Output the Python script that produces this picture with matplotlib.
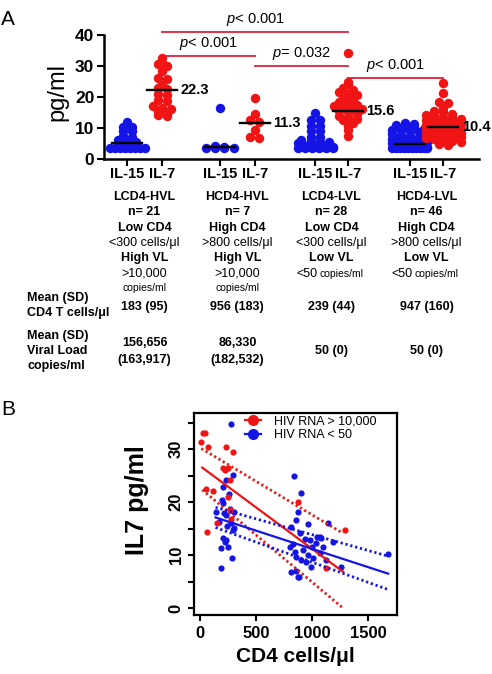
import numpy as np
import matplotlib
matplotlib.use('Agg')
import matplotlib.pyplot as plt
import matplotlib.transforms as mtransforms
from matplotlib.lines import Line2D

plt.rcParams['font.family'] = ['Liberation Sans', 'DejaVu Sans']
plt.rcParams['mathtext.fontset'] = 'custom'
plt.rcParams['mathtext.it'] = 'Liberation Sans:italic'
plt.rcParams['mathtext.rm'] = 'Liberation Sans'

RED = '#f01414'
BLUE = '#1414e6'
LINE_RED = '#e0203a'

# ---- panel A data ----
groups = ['LCD4-HVL', 'HCD4-HVL', 'LCD4-LVL', 'HCD4-LVL']
n_lab = ['n= 21', 'n= 7', 'n= 28', 'n= 46']
cd4_lab = ['Low CD4', 'High CD4', 'Low CD4', 'High CD4']
cd4_rng = ['<300 cells/\u03bcl', '>800 cells/\u03bcl', '<300 cells/\u03bcl', '>800 cells/\u03bcl']
vl_lab = ['High VL', 'High VL', 'Low VL', 'Low VL']
cd4_mean = ['183 (95)', '956 (183)', '239 (44)', '947 (160)']
vl_mean = [('156,656', '(163,917)'), ('86,330', '(182,532)'), ('50 (0)',), ('50 (0)',)]

il15 = [
    [12.0, 10.4, 10.2, 9.1, 9.0, 7.5, 7.0, 6.0, 5.8, 5.5, 4.5, 4.3, 4.0, 3.5, 3.5, 3.5, 3.5, 3.5, 3.5, 3.5, 3.5],
    [16.3, 4.3, 3.8, 3.6, 3.5, 3.5, 3.5],
    [14.7, 12.6, 12.5, 10.7, 10.6, 9.0, 8.9, 7.2, 7.1, 6.0, 5.8, 5.6, 5.5, 5.2, 4.2, 4.1, 4.0, 4.0,
     3.9, 3.9, 3.8, 3.8, 3.7, 3.7, 3.6, 3.6, 3.5, 3.5],
    [11.5, 11.3, 11.0, 10.6, 10.2, 9.8, 9.5, 9.2, 8.9, 8.6, 8.3, 8.0, 7.7, 7.4, 7.1, 6.8, 6.5, 6.3,
     6.0, 5.8, 5.6, 5.4, 5.2, 5.0, 4.8, 4.6, 4.4, 4.3, 4.2, 4.1, 4.0, 4.0, 3.9, 3.9, 3.8, 3.8, 3.7,
     3.7, 3.7, 3.6, 3.6, 3.6, 3.5, 3.5, 3.5, 3.5],
]
il7 = [
    [32.5, 31, 30.5, 30, 28.5, 26, 25.8, 24, 23, 22.5, 21, 20.5, 19, 18.8, 17, 16.5, 16, 15.5, 14.5, 14.2, 13.8],
    [19.6, 14.5, 12.5, 12.0, 9.5, 7.0, 6.8],
    [34.1, 24.8, 24.2, 22.8, 22.3, 21.5, 21, 20.5, 19.5, 19.2, 18.5, 18, 17.5, 17, 16.5, 16.2, 16,
     15.5, 15, 14.5, 14, 13.5, 13, 12.5, 11.5, 10.5, 9.3, 7.5],
    [24.4, 21.2, 18.5, 18.0, 16.5, 15.5, 15.0, 14.6, 14.2, 13.8, 13.5, 13.2, 12.9, 12.6, 12.3, 12.0,
     11.8, 11.5, 11.3, 11.0, 10.8, 10.6, 10.4, 10.2, 10.0, 9.8, 9.6, 9.4, 9.2, 9.0, 8.8, 8.6, 8.4,
     8.2, 8.0, 7.8, 7.5, 7.2, 7.0, 6.7, 6.4, 6.1, 5.8, 5.5, 5.0, 4.5],
]
il15_center = [5.3, 3.8, None, 5.0]
il7_center = [22.1, 11.6, 15.6, 10.2]
il7_center_lab = ['22.3', '11.3', '15.6', '10.4']

# brackets: (from group IL-7, to group IL-7, height, label)
brackets = [(0, 2, 41.0, '$p$< 0.001'), (0, 1, 33.2, '$p$< 0.001'),
            (1, 2, 30.0, '$p$= 0.032'), (2, 3, 26.1, '$p$< 0.001')]

# ---- panel B data ----
red_cd4 = [10, 24, 39, 69, 233, 292, 203, 218, 248, 262, 54, 114, 248, 262, 149, 60, 872, 1126, 1289, 275]
red_il7 = [31.4, 33, 33, 30.3, 30.4, 29.4, 26.4, 26, 26.5, 24.2, 22.4, 22.1, 21, 18.5, 16, 14.4, 20, 7.5, 14.7, 16.9]
blue_cd4 = [278, 292, 233, 203, 254, 197, 203, 144, 262, 233, 298, 278, 292, 203, 218, 248, 188, 286, 188,
            167, 233, 300, 210, 240,
            837, 896, 872, 858, 962, 813, 1140, 887, 977, 1066, 798, 843, 858, 947, 992, 813, 872, 1036,
            1095, 1006, 1066, 1045, 1075, 1676, 1260, 881, 830, 920, 960, 900, 1000, 1120, 850, 935, 1180]
blue_il7 = [34.7, 25.1, 24.2, 22.9, 21.6, 20.4, 19.8, 18.2, 18.6, 17.5, 18.2, 16.0, 14.7, 13.2, 12.5, 11.6,
            11.3, 9.4, 7.5, 16.3, 12.8, 15.2, 18.0, 15.5,
            24.9, 21.8, 18.2, 16.6, 15.8, 15.3, 16.1, 14.1, 12.8, 13.5, 11.6, 10.6, 9.7, 8.7, 7.8, 6.8,
            5.9, 12.2, 11.6, 9.4, 10.3, 13.5, 13.3, 10.2, 7.7, 5.8, 12.0, 11.0, 10.0, 9.0, 11.5, 9.0,
            7.0, 13.0, 12.5]

red_fit_x = [19, 1274]
red_fit_y = [26.5, 6.85]
red_hi_x = [10, 1274]
red_hi_y = [30.1, 14.1]
red_lo_x = [19, 1274]
red_lo_y = [22.3, 0.0]
blue_fit_x = [137, 1676]
blue_fit_y = [17.1, 6.5]
blue_hi_y = [19.0, 9.8]
blue_lo_y = [15.2, 3.5]


def swarm(center, vals, binw=1.5, dx=0.26, maxw=1.0):
    vals = np.sort(np.asarray(vals, dtype=float))[::-1]
    bins = np.round(vals / binw)
    xs = np.zeros(len(vals))
    for b in np.unique(bins):
        idx = np.where(bins == b)[0]
        n = len(idx)
        step = dx if n < 2 else min(dx, maxw / (n - 1))
        xs[idx] = center + (np.arange(n) - (n - 1) / 2) * step
    return xs, vals


fig = plt.figure(figsize=(4.92, 6.74), dpi=100)
W, H = 492, 674

# ================= panel A =================
axA = fig.add_axes([104 / W, 1 - 159 / H, 375 / W, (159 - 10.2) / H])
pos15 = [0.66, 3.31, 6.03, 8.74]
pos7 = [1.66, 4.31, 6.97, 9.69]

for i in range(4):
    x, v = swarm(pos15[i], il15[i])
    axA.scatter(x, v, s=46, color=BLUE, lw=0, zorder=3, clip_on=False)
    x, v = swarm(pos7[i], il7[i])
    axA.scatter(x, v, s=46, color=RED, lw=0, zorder=3, clip_on=False)
    if il15_center[i] is not None:
        axA.plot([pos15[i] - 0.43, pos15[i] + 0.43], [il15_center[i]] * 2, color='black', lw=1.7, zorder=4)
    axA.plot([pos7[i] - 0.43, pos7[i] + 0.43], [il7_center[i]] * 2, color='black', lw=1.7, zorder=4)
    axA.text(pos7[i] + 0.53, il7_center[i], il7_center_lab[i], fontsize=10.5, fontweight='bold',
             ha='left', va='center')

for g0, g1, yb, lab in brackets:
    x0, x1 = pos7[g0], pos7[g1]
    axA.plot([x0, x1], [yb, yb], color=LINE_RED, lw=1.3, clip_on=False)
    axA.text((x0 + x1) / 2, yb + 1.2, lab, fontsize=10.5, ha='center', va='bottom')

axA.set_xlim(0, 375 / 35)
axA.set_ylim(0, 48)
axA.spines['top'].set_visible(False)
axA.spines['right'].set_visible(False)
axA.spines['left'].set_bounds(0, 40)
axA.spines['left'].set_linewidth(1.8)
axA.spines['bottom'].set_linewidth(1.8)
axA.set_yticks([0, 10, 20, 30, 40])
axA.set_yticklabels(['0', '10', '20', '30', '40'], fontsize=12.5, fontweight='bold')
ticks = sorted(pos15 + pos7)
axA.set_xticks(ticks)
axA.set_xticklabels(['IL-15', 'IL-7'] * 4, fontsize=10.5, fontweight='bold')
axA.tick_params(axis='both', width=1.5, length=5)
axA.tick_params(axis='x', pad=1)
axA.tick_params(axis='y', pad=2)
axA.set_ylabel('pg/ml', fontsize=17)
axA.yaxis.set_label_coords(-0.095, 0.45)

# table under panel A
blend = mtransforms.blended_transform_factory(axA.transData, fig.transFigure)
gc = [(a + b) / 2 for a, b in zip(pos15, pos7)]


def fy(ypx):
    return 1 - ypx / H


for i in range(4):
    axA.text(gc[i], fy(197), groups[i], transform=blend, ha='center', va='center', fontsize=9, fontweight='bold')
    axA.text(gc[i], fy(212), n_lab[i], transform=blend, ha='center', va='center', fontsize=9, fontweight='bold')
    axA.text(gc[i], fy(228), cd4_lab[i], transform=blend, ha='center', va='center', fontsize=9, fontweight='bold')
    axA.text(gc[i], fy(243), cd4_rng[i], transform=blend, ha='center', va='center', fontsize=9)
    axA.text(gc[i], fy(258), vl_lab[i], transform=blend, ha='center', va='center', fontsize=9, fontweight='bold')
    if i < 2:
        axA.text(gc[i], fy(274), '>10,000', transform=blend, ha='center', va='center', fontsize=9)
        axA.text(gc[i], fy(288), 'copies/ml', transform=blend, ha='center', va='center', fontsize=7.5)
    else:
        axA.annotate('<50', xy=(gc[i], fy(274)), xycoords=blend, xytext=(-10, 0),
                     textcoords='offset points', ha='right', va='center', fontsize=9)
        axA.annotate('copies/ml', xy=(gc[i], fy(274)), xycoords=blend, xytext=(-9, 0),
                     textcoords='offset points', ha='left', va='center', fontsize=7.5)
    axA.text(gc[i], fy(307), cd4_mean[i], transform=blend, ha='center', va='center', fontsize=9, fontweight='bold')
    if len(vl_mean[i]) == 2:
        axA.text(gc[i], fy(343), vl_mean[i][0], transform=blend, ha='center', va='center', fontsize=9, fontweight='bold')
        axA.text(gc[i], fy(360), vl_mean[i][1], transform=blend, ha='center', va='center', fontsize=9, fontweight='bold')
    else:
        axA.text(gc[i], fy(351), vl_mean[i][0], transform=blend, ha='center', va='center', fontsize=9, fontweight='bold')

for ypx, t in [(298, 'Mean (SD)'), (313, 'CD4 T cells/\u03bcl'), (336, 'Mean (SD)'),
               (351, 'Viral Load'), (366, 'copies/ml')]:
    fig.text(27 / W, fy(ypx), t, ha='left', va='center', fontsize=9, fontweight='bold')

fig.text(1 / W, fy(25), 'A', fontsize=15, ha='left', va='baseline')
fig.text(1 / W, fy(415), 'B', fontsize=15, ha='left', va='baseline')

# ================= panel B =================
axB = fig.add_axes([194 / W, 1 - 615 / H, 203 / W, 202 / H])
axB.scatter(blue_cd4, blue_il7, s=20, color=BLUE, lw=0, zorder=3)
axB.scatter(red_cd4, red_il7, s=20, color=RED, lw=0, zorder=3)
dot = (0, (0.8, 1.0))
axB.plot(red_fit_x, red_fit_y, color=RED, lw=1.6, zorder=4)
axB.plot(red_hi_x, red_hi_y, color=RED, lw=2.0, ls=dot, zorder=4)
axB.plot(red_lo_x, red_lo_y, color=RED, lw=2.0, ls=dot, zorder=4)
axB.plot(blue_fit_x, blue_fit_y, color=BLUE, lw=1.6, zorder=4)
axB.plot(blue_fit_x, blue_hi_y, color=BLUE, lw=2.0, ls=dot, zorder=4)
axB.plot(blue_fit_x, blue_lo_y, color=BLUE, lw=2.0, ls=dot, zorder=4)

axB.set_xlim(-55, 1755)
axB.set_ylim(-1.3, 36.8)
for sp in axB.spines.values():
    sp.set_linewidth(1.6)
axB.set_xticks([0, 500, 1000, 1500])
axB.set_xticklabels(['0', '500', '1000', '1500'], fontsize=12, fontweight='bold')
axB.set_yticks([0, 5, 10, 15, 20, 25, 30, 35])
axB.set_yticklabels(['0', '', '10', '', '20', '', '30', ''], fontsize=12, fontweight='bold',
                    rotation=90, va='center')
axB.tick_params(axis='both', width=1.5, length=4)
axB.tick_params(axis='x', pad=4)
axB.set_xlabel('CD4 cells/\u03bcl', fontsize=15, fontweight='bold', labelpad=4)
axB.set_ylabel('IL7 pg/ml', fontsize=18, fontweight='bold')
axB.yaxis.set_label_coords(-0.22, 0.57)

handles = [Line2D([], [], color=RED, marker='o', ms=7, lw=1.6),
           Line2D([], [], color=BLUE, marker='o', ms=7, lw=1.6)]
axB.legend(handles, ['HIV RNA > 10,000', 'HIV RNA < 50'], loc='upper left',
           bbox_to_anchor=(0.25, 0.99), frameon=False, fontsize=9, handlelength=1.3,
           handletextpad=1.0, labelspacing=0.15, borderpad=0, borderaxespad=0)

fig.savefig('out.png', dpi=100)
